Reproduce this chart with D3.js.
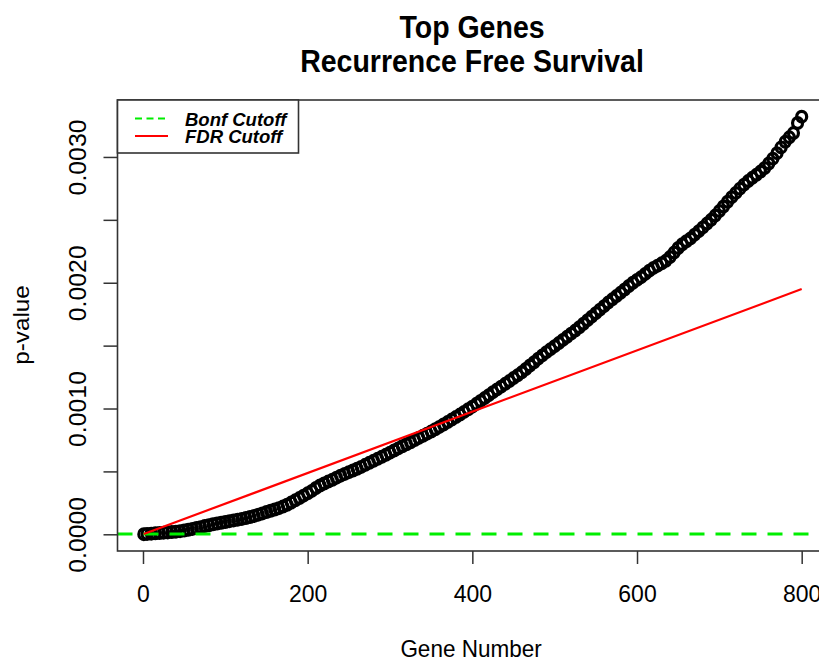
<!DOCTYPE html>
<html>
<head>
<meta charset="utf-8">
<script src="https://cdn.jsdelivr.net/npm/d3@7"></script>
<style>
  body { margin: 0; background: #fff; }
  svg { display: block; font-family: "Liberation Sans", Arial, sans-serif; }
</style>
</head>
<body>
<svg id="chart" width="819" height="661"></svg>
<script>
// gene rank (x) and p-value (y), every 5 genes
const genes = [1, 5, 10, 15, 20, 25, 30, 35, 40, 45, 50, 55, 60, 65, 70, 75, 80, 85, 90, 95,
  100, 105, 110, 115, 120, 125, 130, 135, 140, 145, 150, 155, 160, 165, 170, 175, 180, 185, 190, 195,
  200, 205, 210, 215, 220, 225, 230, 235, 240, 245, 250, 255, 260, 265, 270, 275, 280, 285, 290, 295,
  300, 305, 310, 315, 320, 325, 330, 335, 340, 345, 350, 355, 360, 365, 370, 375, 380, 385, 390, 395,
  400, 405, 410, 415, 420, 425, 430, 435, 440, 445, 450, 455, 460, 465, 470, 475, 480, 485, 490, 495,
  500, 505, 510, 515, 520, 525, 530, 535, 540, 545, 550, 555, 560, 565, 570, 575, 580, 585, 590, 595,
  600, 605, 610, 615, 620, 625, 630, 635, 640, 645, 650, 655, 660, 665, 670, 675, 680, 685, 690, 695,
  700, 705, 710, 715, 720, 725, 730, 735, 740, 745, 750, 755, 760, 765, 770, 775, 780, 785, 790, 795,
  800];

const pValues = [0.000001, 0.000003, 0.000005, 0.000008, 0.000010, 0.000013, 0.000015, 0.000018, 0.000021, 0.000025,
  0.000030, 0.000036, 0.000043, 0.000050, 0.000057, 0.000065, 0.000072, 0.000080, 0.000086, 0.000092,
  0.000098, 0.000104, 0.000110, 0.000116, 0.000122, 0.000129, 0.000137, 0.000146, 0.000156, 0.000166,
  0.000177, 0.000187, 0.000197, 0.000208, 0.000220, 0.000235, 0.000252, 0.000270, 0.000288, 0.000307,
  0.000326, 0.000345, 0.000368, 0.000388, 0.000404, 0.000419, 0.000433, 0.000450, 0.000466, 0.000480,
  0.000494, 0.000507, 0.000521, 0.000536, 0.000552, 0.000568, 0.000584, 0.000600, 0.000616, 0.000632,
  0.000649, 0.000666, 0.000683, 0.000700, 0.000716, 0.000732, 0.000749, 0.000766, 0.000783, 0.000800,
  0.000817, 0.000835, 0.000854, 0.000873, 0.000892, 0.000912, 0.000932, 0.000952, 0.000973, 0.000994,
  0.001015, 0.001037, 0.001060, 0.001083, 0.001106, 0.001130, 0.001152, 0.001174, 0.001196, 0.001218,
  0.001242, 0.001264, 0.001288, 0.001314, 0.001342, 0.001368, 0.001396, 0.001422, 0.001448, 0.001472,
  0.001496, 0.001520, 0.001545, 0.001570, 0.001595, 0.001620, 0.001646, 0.001674, 0.001702, 0.001730,
  0.001758, 0.001786, 0.001814, 0.001842, 0.001868, 0.001894, 0.001920, 0.001946, 0.001974, 0.002000,
  0.002022, 0.002044, 0.002070, 0.002096, 0.002118, 0.002136, 0.002154, 0.002174, 0.002204, 0.002240,
  0.002276, 0.002306, 0.002330, 0.002352, 0.002382, 0.002410, 0.002440, 0.002470, 0.002500, 0.002534,
  0.002570, 0.002606, 0.002644, 0.002680, 0.002714, 0.002748, 0.002780, 0.002808, 0.002834, 0.002858,
  0.002884, 0.002912, 0.002948, 0.002986, 0.003030, 0.003076, 0.003120, 0.003156, 0.003190, 0.003270,
  0.003320];

// cutoff lines
const fdrGenes = [1, 800];
const fdrValues = [0.0000024, 0.00195];
const bonfCutoff = 0.0000024;

const xTicks = [0, 200, 400, 600, 800];
const yTicks = [0, 0.0005, 0.001, 0.0015, 0.002, 0.0025, 0.003];
const yTickLabels = ["0.0000", "", "0.0010", "", "0.0020", "", "0.0030"];

const legendLabels = ["Bonf Cutoff", "FDR Cutoff"];
const legendColors = ["#00ee00", "#ff0000"];

const box = { left: 117.5, right: 828, top: 100, bottom: 551 };
const stretch = 1.08; // picture is a bit taller than wide

const svg = d3.select("#chart");

// R-style 4% padding around the data range
const xPad = (d3.max(genes) - d3.min(genes)) * 0.04;
const xScale = d3.scaleLinear()
  .domain([d3.min(genes) - xPad, d3.max(genes) + xPad])
  .range([box.left, box.right]);

const yPad = d3.max(pValues) * 0.04;
const yScale = d3.scaleLinear()
  .domain([-yPad, d3.max(pValues) + yPad])
  .range([box.bottom, box.top]);

// title
const titleLines = ["Top Genes", "Recurrence Free Survival"];
svg.selectAll(".title")
  .data(titleLines)
  .enter()
  .append("text")
  .attr("class", "title")
  .attr("transform", (d, i) => `translate(472,${38 + i * 34}) scale(1,${stretch})`)
  .attr("text-anchor", "middle")
  .attr("font-size", 28.5)
  .attr("font-weight", "bold")
  .text((d) => d);

// points
const pts = genes.map((g, i) => ({ g: g, p: pValues[i] }));
svg.append("g")
  .selectAll("ellipse")
  .data(pts)
  .enter()
  .append("ellipse")
  .attr("cx", (d) => xScale(d.g))
  .attr("cy", (d) => yScale(d.p))
  .attr("rx", 5)
  .attr("ry", 5 * stretch)
  .attr("fill", "none")
  .attr("stroke", "#000")
  .attr("stroke-width", 3.2);

// bonferroni line
svg.append("line")
  .attr("x1", box.left)
  .attr("x2", 819)
  .attr("y1", yScale(bonfCutoff))
  .attr("y2", yScale(bonfCutoff))
  .attr("stroke", legendColors[0])
  .attr("stroke-width", 3)
  .attr("stroke-dasharray", "15,11");

// FDR line
const line = d3.line()
  .x((d) => xScale(d[0]))
  .y((d) => yScale(d[1]));
svg.append("path")
  .attr("d", line(fdrGenes.map((g, i) => [g, fdrValues[i]])))
  .attr("fill", "none")
  .attr("stroke", legendColors[1])
  .attr("stroke-width", 2.2);

// axes
const xAxis = d3.axisBottom(xScale).tickValues(xTicks).tickSize(13).tickSizeOuter(0);
const gx = svg.append("g")
  .attr("transform", `translate(0,${box.bottom})`)
  .call(xAxis);
gx.select(".domain").remove();
gx.selectAll("line").attr("stroke", "#333").attr("stroke-width", 1.5);
gx.selectAll("text")
  .attr("y", 0)
  .attr("dy", 0)
  .attr("transform", `translate(0,51) scale(1,${stretch})`)
  .attr("font-size", 23)
  .attr("font-family", "Liberation Sans, Arial, sans-serif")
  .attr("fill", "#000");

const yAxis = d3.axisLeft(yScale).tickValues(yTicks).tickSize(14).tickSizeOuter(0)
  .tickFormat((d, i) => yTickLabels[i]);
const gy = svg.append("g")
  .attr("transform", `translate(${box.left},0)`)
  .call(yAxis);
gy.select(".domain").remove();
gy.selectAll("line").attr("stroke", "#333").attr("stroke-width", 1.5);
gy.selectAll("text")
  .attr("x", 0)
  .attr("dy", 0)
  .attr("text-anchor", "middle")
  .attr("transform", `translate(-32,0) rotate(-90) scale(${stretch},1)`)
  .attr("font-size", 23)
  .attr("font-family", "Liberation Sans, Arial, sans-serif")
  .attr("fill", "#000");

// plot box
svg.append("rect")
  .attr("x", box.left)
  .attr("y", box.top)
  .attr("width", box.right - box.left)
  .attr("height", box.bottom - box.top)
  .attr("fill", "none")
  .attr("stroke", "#333")
  .attr("stroke-width", 1.6);

// axis titles
svg.append("text")
  .attr("transform", `translate(471,657) scale(1,${stretch})`)
  .attr("text-anchor", "middle")
  .attr("font-size", 22.5)
  .text("Gene Number");

svg.append("text")
  .attr("transform", `translate(29,325) rotate(-90) scale(${stretch},1)`)
  .attr("text-anchor", "middle")
  .attr("font-size", 22.5)
  .text("p-value");

// legend
const legend = svg.append("g");
legend.append("rect")
  .attr("x", box.left)
  .attr("y", box.top)
  .attr("width", 181)
  .attr("height", 53)
  .attr("fill", "#fff")
  .attr("stroke", "#333")
  .attr("stroke-width", 1.6);

legendLabels.forEach((lab, i) => {
  const yy = 118.5 + i * 17.5;
  legend.append("line")
    .attr("x1", 135)
    .attr("x2", 168)
    .attr("y1", yy)
    .attr("y2", yy)
    .attr("stroke", legendColors[i])
    .attr("stroke-width", 2.2)
    .attr("stroke-dasharray", i === 0 ? "7,4.5" : null);
  legend.append("text")
    .attr("transform", `translate(185,${yy + 7})`)
    .attr("font-size", 18.5)
    .attr("font-weight", "bold")
    .attr("font-style", "italic")
    .text(lab);
});
</script>
</body>
</html>
